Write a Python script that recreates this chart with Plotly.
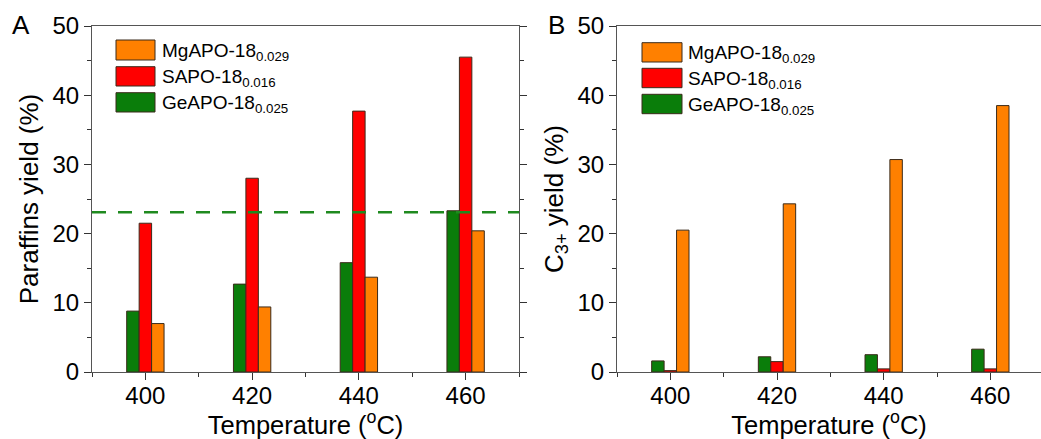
import plotly.graph_objects as go

W, H = 1041, 439

temps = [400, 420, 440, 460]
series_names = ["GeAPO-18", "SAPO-18", "MgAPO-18"]
series_subs = ["0.025", "0.016", "0.029"]
colors = ["#0a7d0a", "#ff0000", "#ff8000"]

paraffins_ge = [8.8, 12.7, 15.8, 23.3]
paraffins_sa = [21.5, 28.0, 37.7, 45.5]
paraffins_mg = [7.0, 9.4, 13.7, 20.4]

c3_ge = [1.6, 2.2, 2.5, 3.3]
c3_sa = [0.2, 1.5, 0.45, 0.45]
c3_mg = [20.5, 24.3, 30.7, 38.5]

ref_line_value = 23.1

FONT = "Liberation Sans, Arial, sans-serif"

fig = go.Figure()

panelA = [paraffins_ge, paraffins_sa, paraffins_mg]
panelB = [c3_ge, c3_sa, c3_mg]

for name, sub, col, vals in zip(series_names, series_subs, colors, panelA):
    fig.add_trace(go.Bar(x=temps, y=vals, name=f"{name}<sub>{sub}</sub>",
                         marker=dict(color=col, line=dict(color="#3b2b1b", width=1)),
                         xaxis="x", yaxis="y", showlegend=False))
for name, sub, col, vals in zip(series_names, series_subs, colors, panelB):
    fig.add_trace(go.Bar(x=temps, y=vals, name=f"{name}<sub>{sub}</sub>",
                         marker=dict(color=col, line=dict(color="#3b2b1b", width=1)),
                         xaxis="x2", yaxis="y2", showlegend=False))

def px_x(p):
    return p / W

def px_y(p):
    return 1 - p / H

ydom = [px_y(372), px_y(26)]

common_x = dict(
    showline=True, linecolor="#555555", linewidth=1,
    ticks="outside", ticklen=7, tickcolor="#333333", tickwidth=1,
    tick0=400, dtick=20, ticklabelstandoff=-5,
    minor=dict(ticks="outside", ticklen=4, tickcolor="#333333", dtick=10, tick0=390),
    tickfont=dict(family=FONT, size=24, color="black"),
    title=dict(text="Temperature (<sup>o</sup>C)", font=dict(family=FONT, size=25.5, color="black"), standoff=0),
    showgrid=False, zeroline=False, automargin=False,
)
common_y = dict(
    showline=True, linecolor="#555555", linewidth=1,
    ticks="outside", ticklen=7, tickcolor="#333333", tickwidth=1,
    range=[0, 50], tick0=0, dtick=10,
    minor=dict(ticks="outside", ticklen=4, tickcolor="#333333", dtick=5, tick0=0),
    tickfont=dict(family=FONT, size=24, color="black"),
    showgrid=False, zeroline=False, automargin=False,
)

fig.update_layout(
    width=W, height=H,
    margin=dict(l=0, r=0, t=0, b=0),
    paper_bgcolor="white", plot_bgcolor="white",
    barmode="group", bargap=0.65, bargroupgap=0,
    font=dict(family=FONT, color="black"),
    xaxis=dict(common_x, domain=[px_x(92), px_x(519)], range=[390, 470], anchor="y", mirror=True),
    yaxis=dict(common_y, domain=ydom, anchor="x", mirror="allticks",
               title=dict(text="Paraffins yield (%)", font=dict(family=FONT, size=26, color="black"), standoff=6)),
    xaxis2=dict(common_x, domain=[px_x(617), 1.0], range=[390, 469.5], anchor="y2", mirror=True),
    yaxis2=dict(common_y, domain=ydom, anchor="x2", mirror=False,
                title=dict(text="C<sub>3+</sub> yield (%)", font=dict(family=FONT, size=26, color="black"), standoff=6)),
)

shapes = [
    dict(type="line", xref="x domain", yref="y", x0=0, x1=1, y0=ref_line_value, y1=ref_line_value,
         line=dict(color="#1f8a1f", width=2.5, dash="14px,12px"), layer="above"),
]
annotations = []

legend_order = [2, 1, 0]
legends = [
    dict(sx0=116, sx1=155, rows=[(40, 60), (66.7, 86), (92.7, 112)], tx=160),
    dict(sx0=642, sx1=682, rows=[(42.7, 62), (68.3, 87.7), (94.3, 113.7)], tx=686),
]
for lg in legends:
    for idx, (y0, y1) in zip(legend_order, lg["rows"]):
        shapes.append(dict(type="rect", xref="paper", yref="paper",
                           x0=px_x(lg["sx0"]), x1=px_x(lg["sx1"]), y0=px_y(y1), y1=px_y(y0),
                           fillcolor=colors[idx], line=dict(color="#3b2b1b", width=1)))
        annotations.append(dict(xref="paper", yref="paper", x=px_x(lg["tx"]), y=px_y((y0 + y1) / 2 + 2),
                                xanchor="left", yanchor="middle", showarrow=False,
                                text=f"{series_names[idx]}<sub>{series_subs[idx]}</sub>",
                                font=dict(family=FONT, size=19, color="black")))

annotations.append(dict(xref="paper", yref="paper", x=px_x(21), y=px_y(25), xanchor="center", yanchor="middle",
                        showarrow=False, text="A", font=dict(family=FONT, size=26, color="black")))
annotations.append(dict(xref="paper", yref="paper", x=px_x(556), y=px_y(25), xanchor="center", yanchor="middle",
                        showarrow=False, text="B", font=dict(family=FONT, size=26, color="black")))

fig.update_layout(shapes=shapes, annotations=annotations)

fig.write_html("out.html")
